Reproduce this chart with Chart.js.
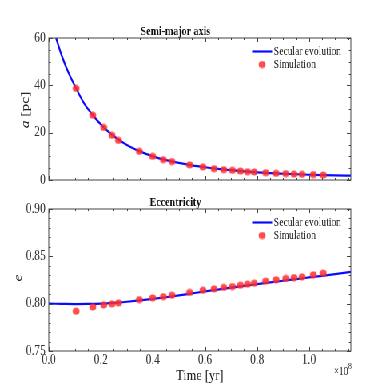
<!DOCTYPE html>
<html>
<head>
<meta charset="utf-8">
<script src="https://cdn.jsdelivr.net/npm/chart.js@4.4.1/dist/chart.umd.min.js"></script>
<style>
  html, body { margin:0; padding:0; background:#fff; overflow:hidden; }
  #wrap { position:absolute; left:0; top:0; width:488px; height:390px; transform:scaleX(0.79918); transform-origin:0 0; }
  canvas { position:absolute; left:0; }
</style>
</head>
<body>
<div id="wrap">
  <canvas id="c1" width="488" height="195" style="top:0"></canvas>
  <canvas id="c2" width="488" height="195" style="top:195px"></canvas>
</div>
<script>
// ---- data (time in units of 1e8 yr) ----
const simTime = [0.105, 0.169, 0.211, 0.243, 0.268, 0.348, 0.399, 0.440, 0.473, 0.541, 0.592, 0.635, 0.672, 0.705, 0.736, 0.763, 0.789, 0.833, 0.873, 0.910, 0.942, 0.973, 1.016, 1.054];
const simA = [38.7, 27.4, 22.2, 18.9, 16.7, 12.1, 10.0, 8.6, 7.8, 6.4, 5.5, 4.8, 4.4, 4.1, 3.8, 3.5, 3.4, 3.1, 2.8, 2.7, 2.5, 2.4, 2.3, 2.1];
const simE = [0.7920, 0.7966, 0.7987, 0.7998, 0.8008, 0.8043, 0.8061, 0.8075, 0.8089, 0.8118, 0.8142, 0.8156, 0.8171, 0.8181, 0.8195, 0.8206, 0.8216, 0.8238, 0.8252, 0.8266, 0.8276, 0.8283, 0.8305, 0.8322];

const secTimeA = [0.028, 0.05, 0.075, 0.105, 0.135, 0.169, 0.211, 0.25, 0.3, 0.35, 0.4, 0.45, 0.5, 0.55, 0.6, 0.65, 0.7, 0.75, 0.8, 0.85, 0.9, 0.95, 1.0, 1.05, 1.1, 1.16];
const secA = [60, 52.5, 45.5, 38.7, 32.5, 27.4, 22.2, 18.5, 14.8, 12.1, 10.0, 8.4, 7.2, 6.2, 5.4, 4.7, 4.15, 3.65, 3.25, 2.9, 2.65, 2.42, 2.22, 2.06, 1.95, 1.85];

const secTimeE = [0, 0.05, 0.1, 0.15, 0.2, 0.25, 0.3, 0.35, 0.4, 0.45, 0.5, 0.55, 0.6, 0.65, 0.7, 0.75, 0.8, 0.85, 0.9, 0.95, 1.0, 1.05, 1.1, 1.16];
const secE = [0.8000, 0.7998, 0.7996, 0.7997, 0.8000, 0.8008, 0.8020, 0.8034, 0.8050, 0.8068, 0.8087, 0.8108, 0.8129, 0.8149, 0.8169, 0.8188, 0.8206, 0.8224, 0.8242, 0.8260, 0.8277, 0.8294, 0.8312, 0.8335];

const xTickLabels = ['0.0', '0.2', '0.4', '0.6', '0.8', '1.0'];
const aTickLabels = ['0', '20', '40', '60'];
const eTickLabels = ['0.75', '0.80', '0.85', '0.90'];
const legendLabels = ['Secular evolution', 'Simulation'];
const titles = ['Semi-major axis', 'Eccentricity'];

// ---- styles ----
const FONT = "'Liberation Serif', 'DejaVu Serif', serif";
const BLUE = '#0a0aff';
const RED = 'rgba(255,45,45,0.85)';
const FRAME = '#444';
const SX = 0.79918;

function makeDot() {
  const c = document.createElement('canvas');
  c.width = 10; c.height = 8;
  const g = c.getContext('2d');
  g.fillStyle = RED;
  g.beginPath();
  g.ellipse(5, 4, 3.5 / SX, 3.5, 0, 0, Math.PI * 2);
  g.fill();
  return c;
}
const dot = makeDot();

const frameTicks = {
  id: 'frameTicks',
  afterDatasetsDraw(chart, args, opts) {
    const { ctx, chartArea: a, scales } = chart;
    const xs = scales.x, ys = scales.y;
    ctx.save();
    ctx.strokeStyle = FRAME;
    ctx.lineWidth = 1;
    ctx.strokeRect(a.left, a.top, a.right - a.left, a.bottom - a.top);
    ctx.beginPath();
    const xMaj = 0.2, xMin = 0.05;
    for (let i = 0; i * xMin <= xs.max + 1e-9; i++) {
      const v = i * xMin;
      const major = Math.abs(v / xMaj - Math.round(v / xMaj)) < 1e-6;
      const L = major ? 4 : 2;
      const px = Math.round(xs.getPixelForValue(v)) + 0.5;
      ctx.moveTo(px, a.bottom); ctx.lineTo(px, a.bottom - L);
      ctx.moveTo(px, a.top); ctx.lineTo(px, a.top + L);
    }
    const yMaj = opts.yMaj, yMin = opts.yMin;
    const n = Math.round((ys.max - ys.min) / yMin);
    for (let i = 0; i <= n; i++) {
      const v = ys.min + i * yMin;
      const major = Math.abs((v - ys.min) / yMaj - Math.round((v - ys.min) / yMaj)) < 1e-6;
      const L = major ? 5 : 2.5;
      const py = Math.round(ys.getPixelForValue(v)) + 0.5;
      ctx.moveTo(a.left, py); ctx.lineTo(a.left + L, py);
      ctx.moveTo(a.right, py); ctx.lineTo(a.right - L, py);
    }
    ctx.stroke();

    // legend
    const lx0 = a.right - 123.5, lx1 = a.right - 98.5, tx = a.right - 96.5;
    const ly1 = a.top + 13.5, ly2 = a.top + 26.5;
    const ds = chart.data.datasets;
    ctx.strokeStyle = ds[0].borderColor;
    ctx.lineWidth = ds[0].borderWidth;
    ctx.beginPath(); ctx.moveTo(lx0, ly1); ctx.lineTo(lx1, ly1); ctx.stroke();
    ctx.drawImage(dot, (lx0 + lx1) / 2 - dot.width / 2, ly2 - dot.height / 2);
    ctx.fillStyle = '#222';
    ctx.font = '12px ' + FONT;
    ctx.textBaseline = 'middle';
    ctx.textAlign = 'left';
    ctx.fillText(ds[0].label, tx, ly1 + 0.5);
    ctx.fillText(ds[1].label, tx, ly2 + 0.5);

    // y label
    ctx.save();
    ctx.translate(opts.yLabelX, (a.top + a.bottom) / 2 + opts.yLabelDy);
    ctx.rotate(-Math.PI / 2);
    ctx.textBaseline = 'alphabetic';
    ctx.fillStyle = '#222';
    const parts = opts.yLabel;
    let total = 0;
    parts.forEach(p => { ctx.font = p[1] + ' 15.5px ' + FONT; total += ctx.measureText(p[0]).width; });
    let x = -total / 2;
    parts.forEach(p => { ctx.font = p[1] + ' 15.5px ' + FONT; ctx.fillText(p[0], x, 0); x += ctx.measureText(p[0]).width; });
    ctx.restore();

    if (opts.xLabel) {
      ctx.fillStyle = '#222';
      ctx.textAlign = 'center';
      ctx.textBaseline = 'alphabetic';
      ctx.font = '15.5px ' + FONT;
      ctx.fillText(opts.xLabel, (a.left + a.right) / 2, 184.5);
      // offset text ×10^8
      ctx.textAlign = 'left';
      ctx.font = '8.5px ' + FONT;
      const wExp = ctx.measureText('8').width;
      ctx.font = '11.5px ' + FONT;
      const wBase = ctx.measureText('\u00d710').width;
      const x0 = a.right + 1 - wExp - wBase;
      ctx.fillText('\u00d710', x0, 179.5);
      ctx.font = '8.5px ' + FONT;
      ctx.fillText('8', x0 + wBase, 174);
    }
    ctx.restore();
  }
};

function tickCb(labels, dec) {
  return function (v) {
    const s = v.toFixed(dec);
    return labels.includes(s) ? s : null;
  };
}

function makeChart(id, cfg) {
  return new Chart(document.getElementById(id), {
    type: 'scatter',
    data: {
      datasets: [
        { type: 'line', label: legendLabels[0], data: cfg.secT.map((t, i) => ({ x: t, y: cfg.secV[i] })),
          borderColor: BLUE, borderWidth: 2.2, pointRadius: 0, fill: false, cubicInterpolationMode: 'monotone', order: 2 },
        { label: legendLabels[1], data: simTime.map((t, i) => ({ x: t, y: cfg.simV[i] })),
          pointStyle: dot, pointRadius: 4, backgroundColor: RED, borderWidth: 0, order: 1 }
      ]
    },
    options: {
      responsive: false,
      animation: false,
      devicePixelRatio: 1,
      layout: { padding: cfg.padding },
      plugins: {
        legend: { display: false },
        tooltip: { enabled: false },
        title: { display: true, text: cfg.title, color: '#111', padding: { top: 0, bottom: 0 },
                 font: { family: FONT, size: 12.5, weight: 'bold', lineHeight: 1 } },
        frameTicks: cfg.ft
      },
      scales: {
        x: {
          type: 'linear', min: 0, max: 1.16,
          grid: { display: false, drawTicks: false },
          border: { display: false },
          ticks: { display: cfg.showX, stepSize: 0.2, includeBounds: false, padding: cfg.xPad, color: '#333',
                   font: { family: FONT, size: 14 }, callback: tickCb(xTickLabels, 1) },
          afterFit: s => { s.height = cfg.xH; }
        },
        y: {
          type: 'linear', min: cfg.yMin, max: cfg.yMax,
          grid: { display: false, drawTicks: false },
          border: { display: false },
          ticks: { stepSize: cfg.yStep, includeBounds: false, padding: 4, color: '#333',
                   font: { family: FONT, size: 14 }, callback: tickCb(cfg.yLabels, cfg.yDec) },
          afterFit: s => { s.width = 61; }
        }
      }
    },
    plugins: [frameTicks]
  });
}

makeChart('c1', {
  title: titles[0], secT: secTimeA, secV: secA, simV: simA,
  padding: { left: 0, right: 49, top: 25.5, bottom: 15 },
  showX: false, xH: 0, xPad: 0,
  yMin: 0, yMax: 60, yStep: 20, yLabels: aTickLabels, yDec: 0,
  ft: { yMaj: 20, yMin: 5, yLabelX: 36, yLabelDy: 1, yLabel: [['a', 'italic'], [' [pc]', '']] }
});

makeChart('c2', {
  title: titles[1], secT: secTimeE, secV: secE, simV: simE,
  padding: { left: 0, right: 49, top: 1.5, bottom: 0 },
  showX: true, xH: 39, xPad: 1,
  yMin: 0.75, yMax: 0.90, yStep: 0.05, yLabels: eTickLabels, yDec: 2,
  ft: { yMaj: 0.05, yMin: 0.01, yLabelX: 27, yLabelDy: -2, yLabel: [['e', 'italic']], xLabel: 'Time [yr]' }
});
</script>
</body>
</html>
